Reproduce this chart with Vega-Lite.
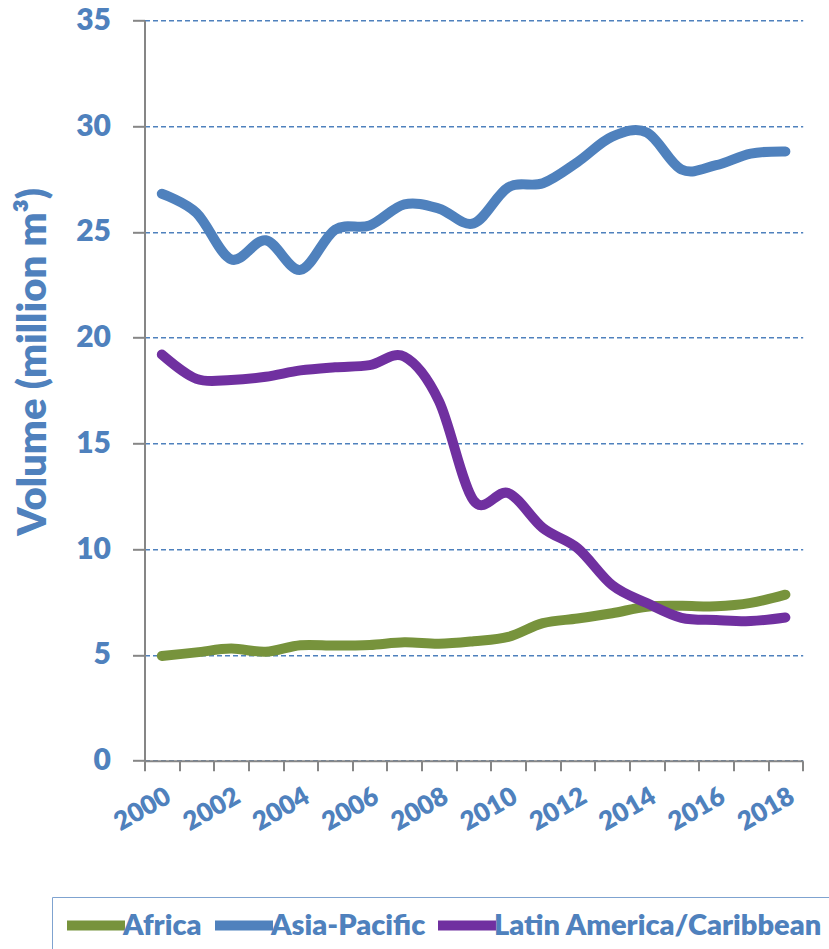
{
  "$schema": "https://vega.github.io/schema/vega-lite/v6.json",
  "autosize": {"type": "none"},
  "padding": {"left": 144.5, "top": 20.3, "right": 26.3, "bottom": 188.3},
  "width": 658.2,
  "height": 740.4,
  "background": "white",
  "data": {
    "values": [
      {"year": 2000, "region": "Africa", "value": 4.95},
      {"year": 2001, "region": "Africa", "value": 5.12},
      {"year": 2002, "region": "Africa", "value": 5.3},
      {"year": 2003, "region": "Africa", "value": 5.15},
      {"year": 2004, "region": "Africa", "value": 5.46},
      {"year": 2005, "region": "Africa", "value": 5.44},
      {"year": 2006, "region": "Africa", "value": 5.47},
      {"year": 2007, "region": "Africa", "value": 5.6},
      {"year": 2008, "region": "Africa", "value": 5.53},
      {"year": 2009, "region": "Africa", "value": 5.65},
      {"year": 2010, "region": "Africa", "value": 5.85},
      {"year": 2011, "region": "Africa", "value": 6.5},
      {"year": 2012, "region": "Africa", "value": 6.72},
      {"year": 2013, "region": "Africa", "value": 6.97},
      {"year": 2014, "region": "Africa", "value": 7.28},
      {"year": 2015, "region": "Africa", "value": 7.32},
      {"year": 2016, "region": "Africa", "value": 7.3},
      {"year": 2017, "region": "Africa", "value": 7.46},
      {"year": 2018, "region": "Africa", "value": 7.85},
      {"year": 2000, "region": "Asia-Pacific", "value": 26.8},
      {"year": 2001, "region": "Asia-Pacific", "value": 25.9},
      {"year": 2002, "region": "Asia-Pacific", "value": 23.7},
      {"year": 2003, "region": "Asia-Pacific", "value": 24.6},
      {"year": 2004, "region": "Asia-Pacific", "value": 23.2},
      {"year": 2005, "region": "Asia-Pacific", "value": 25.1},
      {"year": 2006, "region": "Asia-Pacific", "value": 25.3},
      {"year": 2007, "region": "Asia-Pacific", "value": 26.3},
      {"year": 2008, "region": "Asia-Pacific", "value": 26.1},
      {"year": 2009, "region": "Asia-Pacific", "value": 25.4},
      {"year": 2010, "region": "Asia-Pacific", "value": 27.1},
      {"year": 2011, "region": "Asia-Pacific", "value": 27.3},
      {"year": 2012, "region": "Asia-Pacific", "value": 28.3},
      {"year": 2013, "region": "Asia-Pacific", "value": 29.5},
      {"year": 2014, "region": "Asia-Pacific", "value": 29.7},
      {"year": 2015, "region": "Asia-Pacific", "value": 27.95},
      {"year": 2016, "region": "Asia-Pacific", "value": 28.15},
      {"year": 2017, "region": "Asia-Pacific", "value": 28.7},
      {"year": 2018, "region": "Asia-Pacific", "value": 28.8},
      {"year": 2000, "region": "Latin America/Caribbean", "value": 19.2},
      {"year": 2001, "region": "Latin America/Caribbean", "value": 18.05},
      {"year": 2002, "region": "Latin America/Caribbean", "value": 18.0},
      {"year": 2003, "region": "Latin America/Caribbean", "value": 18.15},
      {"year": 2004, "region": "Latin America/Caribbean", "value": 18.45},
      {"year": 2005, "region": "Latin America/Caribbean", "value": 18.6},
      {"year": 2006, "region": "Latin America/Caribbean", "value": 18.7},
      {"year": 2007, "region": "Latin America/Caribbean", "value": 19.1},
      {"year": 2008, "region": "Latin America/Caribbean", "value": 17.0},
      {"year": 2009, "region": "Latin America/Caribbean", "value": 12.3},
      {"year": 2010, "region": "Latin America/Caribbean", "value": 12.65},
      {"year": 2011, "region": "Latin America/Caribbean", "value": 11.0},
      {"year": 2012, "region": "Latin America/Caribbean", "value": 10.05},
      {"year": 2013, "region": "Latin America/Caribbean", "value": 8.3},
      {"year": 2014, "region": "Latin America/Caribbean", "value": 7.45},
      {"year": 2015, "region": "Latin America/Caribbean", "value": 6.75},
      {"year": 2016, "region": "Latin America/Caribbean", "value": 6.65},
      {"year": 2017, "region": "Latin America/Caribbean", "value": 6.6},
      {"year": 2018, "region": "Latin America/Caribbean", "value": 6.77}
    ]
  },
  "mark": {"type": "line", "interpolate": "cardinal", "strokeWidth": 10, "strokeCap": "round", "strokeJoin": "round"},
  "encoding": {
    "x": {
      "field": "year",
      "type": "ordinal",
      "bandPosition": 0.5,
      "scale": {"type": "band", "paddingInner": 0, "paddingOuter": 0},
      "axis": {
        "title": null,
        "tickBand": "extent",
        "domainColor": "#868686",
        "domainWidth": 2,
        "tickColor": "#868686",
        "tickWidth": 2,
        "tickSize": 10,
        "labelExpr": "datum.value % 2 == 0 ? datum.label : ''",
        "labelAngle": -30,
        "labelAlign": "right",
        "labelBaseline": "top",
        "labelPadding": 12,
        "labelDx": -12,
        "labelFont": "Lato",
        "labelFontWeight": 800,
        "labelFontSize": 26,
        "labelColor": "#4F81BD",
        "labelOverlap": false,
        "grid": false
      }
    },
    "y": {
      "field": "value",
      "type": "quantitative",
      "scale": {"domain": [0, 35], "nice": false},
      "axis": {
        "title": "Volume (million m³)",
        "titleFont": "Lato",
        "titleFontWeight": 800,
        "titleFontSize": 40,
        "titleColor": "#4F81BD",
        "titlePadding": 22,
        "titleY": 341,
        "values": [0, 5, 10, 15, 20, 25, 30, 35],
        "domainColor": "#868686",
        "domainWidth": 2,
        "tickColor": "#868686",
        "tickWidth": 2,
        "tickSize": 12,
        "labelFont": "Lato",
        "labelFontWeight": 800,
        "labelFontSize": 30,
        "labelColor": "#4F81BD",
        "labelPadding": 22,
        "grid": true,
        "gridColor": "#4F81BD",
        "gridWidth": 1.5,
        "gridDash": [5, 3]
      }
    },
    "color": {
      "field": "region",
      "type": "nominal",
      "scale": {
        "domain": ["Africa", "Asia-Pacific", "Latin America/Caribbean"],
        "range": ["#77933C", "#4F81BD", "#7030A0"]
      },
      "legend": {
        "title": null,
        "orient": "none",
        "direction": "horizontal",
        "legendX": -92.5,
        "legendY": 876.7,
        "symbolType": "M-2.9,0H2.9",
        "symbolSize": 400,
        "symbolOffset": 15.5,
        "symbolStrokeWidth": 10,
        "labelFont": "Lato",
        "labelFontWeight": 800,
        "labelFontSize": 29,
        "labelColor": "#4F81BD",
        "labelOffset": 12,
        "columnPadding": -8,
        "padding": 13.5,
        "strokeColor": "#7FA3D0",
        "labelLimit": 500
      }
    }
  },
  "config": {"view": {"stroke": null}}
}
